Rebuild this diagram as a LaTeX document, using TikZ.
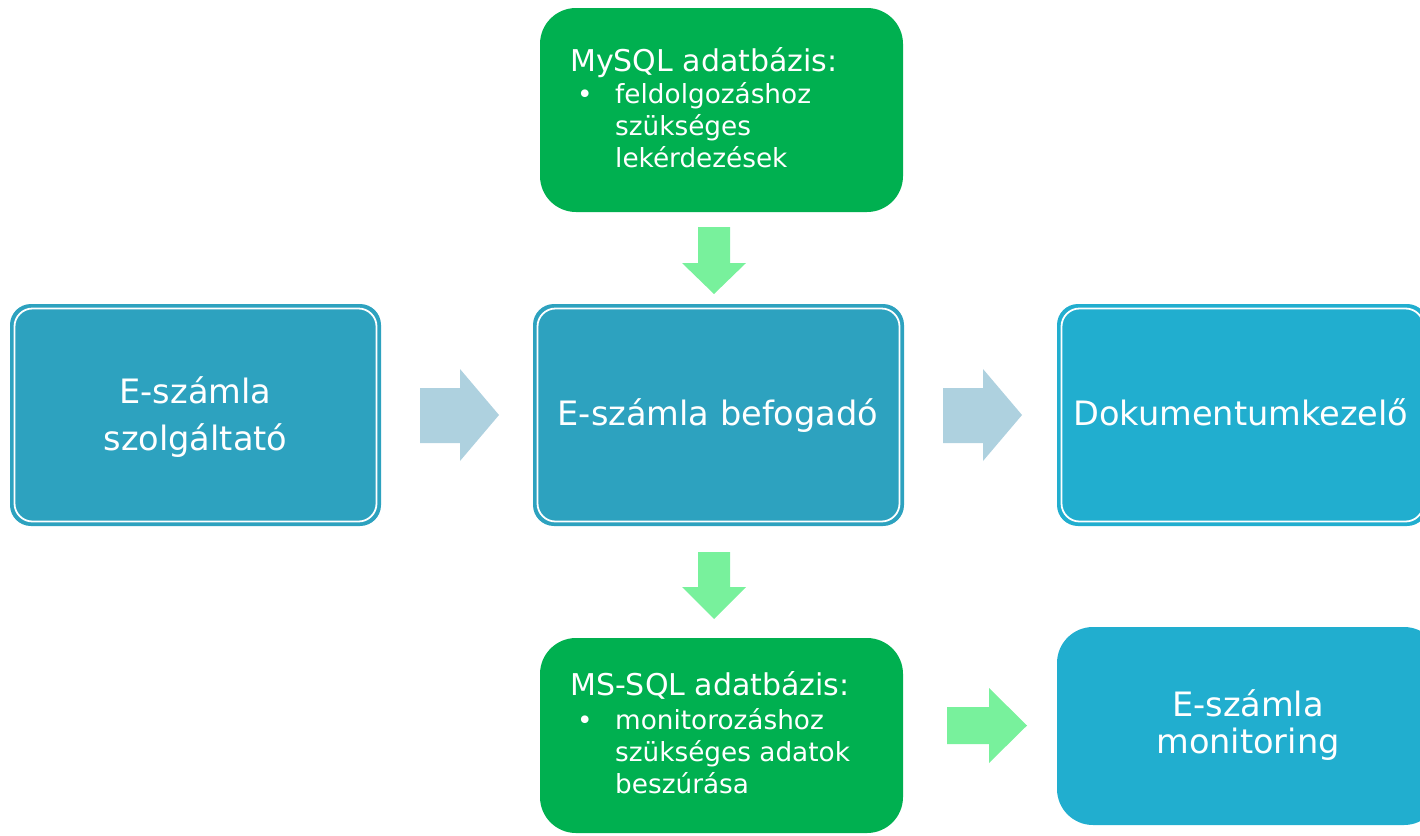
\documentclass[tikz,border=0pt]{standalone}
\usepackage{fontspec}
\setmainfont{DejaVu Sans}
\definecolor{tealA}{HTML}{2DA2BF}
\definecolor{tealB}{HTML}{21AECF}
\definecolor{grn}{HTML}{00B050}
\definecolor{arrblue}{HTML}{AED1DF}
\definecolor{arrgreen}{HTML}{78F19C}
\tikzset{
  x=1pt,y=-1pt,
  dblbox/.style={rounded corners=20pt, draw=#1, line width=2pt, fill=#1},
  innerline/.style={rounded corners=18pt, draw=white, line width=1.8pt},
  gbox/.style={rounded corners=36pt, fill=grn},
  mbox/.style={rounded corners=36pt, fill=tealB},
  bigtxt/.style={text=white, font=\fontsize{33.6}{47}\selectfont, anchor=base, inner sep=0pt},
  headtxt/.style={text=white, font=\fontsize{30}{32}\selectfont, anchor=base west, inner sep=0pt},
  itemtxt/.style={text=white, font=\fontsize{26.3}{32}\selectfont, anchor=base west, inner sep=0pt},
  blockarrow/.style={fill=#1},
}
\begin{document}
\begin{tikzpicture}
\useasboundingbox (0,0) rectangle (1420,835);
\clip (0,0) rectangle (1420,835);
% boxes
\path[dblbox=tealA] (11,305) rectangle (380,525);
\path[innerline] (14.5,308.5) rectangle (376.5,521.5);
\node[bigtxt] (prov1) at (195.5,403) {E-számla};
\node[bigtxt] (prov2) at (195.5,450) {szolgáltató};

\path[dblbox=tealA] (534,305) rectangle (903,525);
\path[innerline] (537.5,308.5) rectangle (899.5,521.5);
\node[bigtxt] (recv) at (718,425) {E-számla befogadó};

\path[dblbox=tealB] (1058,305) rectangle (1427,525);
\path[innerline] (1061.5,308.5) rectangle (1423.5,521.5);
\node[bigtxt, anchor=base west] (doc) at (1073,425) {Dokumentumkezelő};

\path[gbox] (540,8) rectangle (903,212);
\node[headtxt] (mysqlh) at (570,71) {MySQL adatbázis:};
\node[itemtxt] (mysqlb) at (577,103) {•};
\node[itemtxt] (mysql1) at (615,103) {feldolgozáshoz};
\node[itemtxt] (mysql2) at (615,135) {szükséges};
\node[itemtxt] (mysql3) at (615,167) {lekérdezések};

\path[gbox] (540,638) rectangle (903,833);
\node[headtxt] (mssqlh) at (570,695) {MS-SQL adatbázis:};
\node[itemtxt] (mssqlb) at (577,729) {•};
\node[itemtxt] (mssql1) at (615,729) {monitorozáshoz};
\node[itemtxt] (mssql2) at (615,761) {szükséges adatok};
\node[itemtxt] (mssql3) at (615,793) {beszúrása};

\path[mbox] (1057,627) rectangle (1440,825);
\node[bigtxt] (mon1) at (1248,716) {E-számla};
\node[bigtxt] (mon2) at (1248,753) {monitoring};

% block arrows
\fill[blockarrow=arrblue] (420,388) -- (460,388) -- (460,369) -- (499,415) -- (460,461) -- (460,443) -- (420,443) -- cycle;
\fill[blockarrow=arrblue] (943,388) -- (983,388) -- (983,369) -- (1022,415) -- (983,461) -- (983,443) -- (943,443) -- cycle;
\fill[blockarrow=arrgreen] (698,227) -- (730,227) -- (730,263) -- (746,263) -- (714,294) -- (682,263) -- (698,263) -- cycle;
\fill[blockarrow=arrgreen] (698,552) -- (730,552) -- (730,587) -- (746,587) -- (714,619) -- (682,587) -- (698,587) -- cycle;
\fill[blockarrow=arrgreen] (947,707) -- (989,707) -- (989,688) -- (1027,725.5) -- (989,763) -- (989,744) -- (947,744) -- cycle;
\end{tikzpicture}
\end{document}
